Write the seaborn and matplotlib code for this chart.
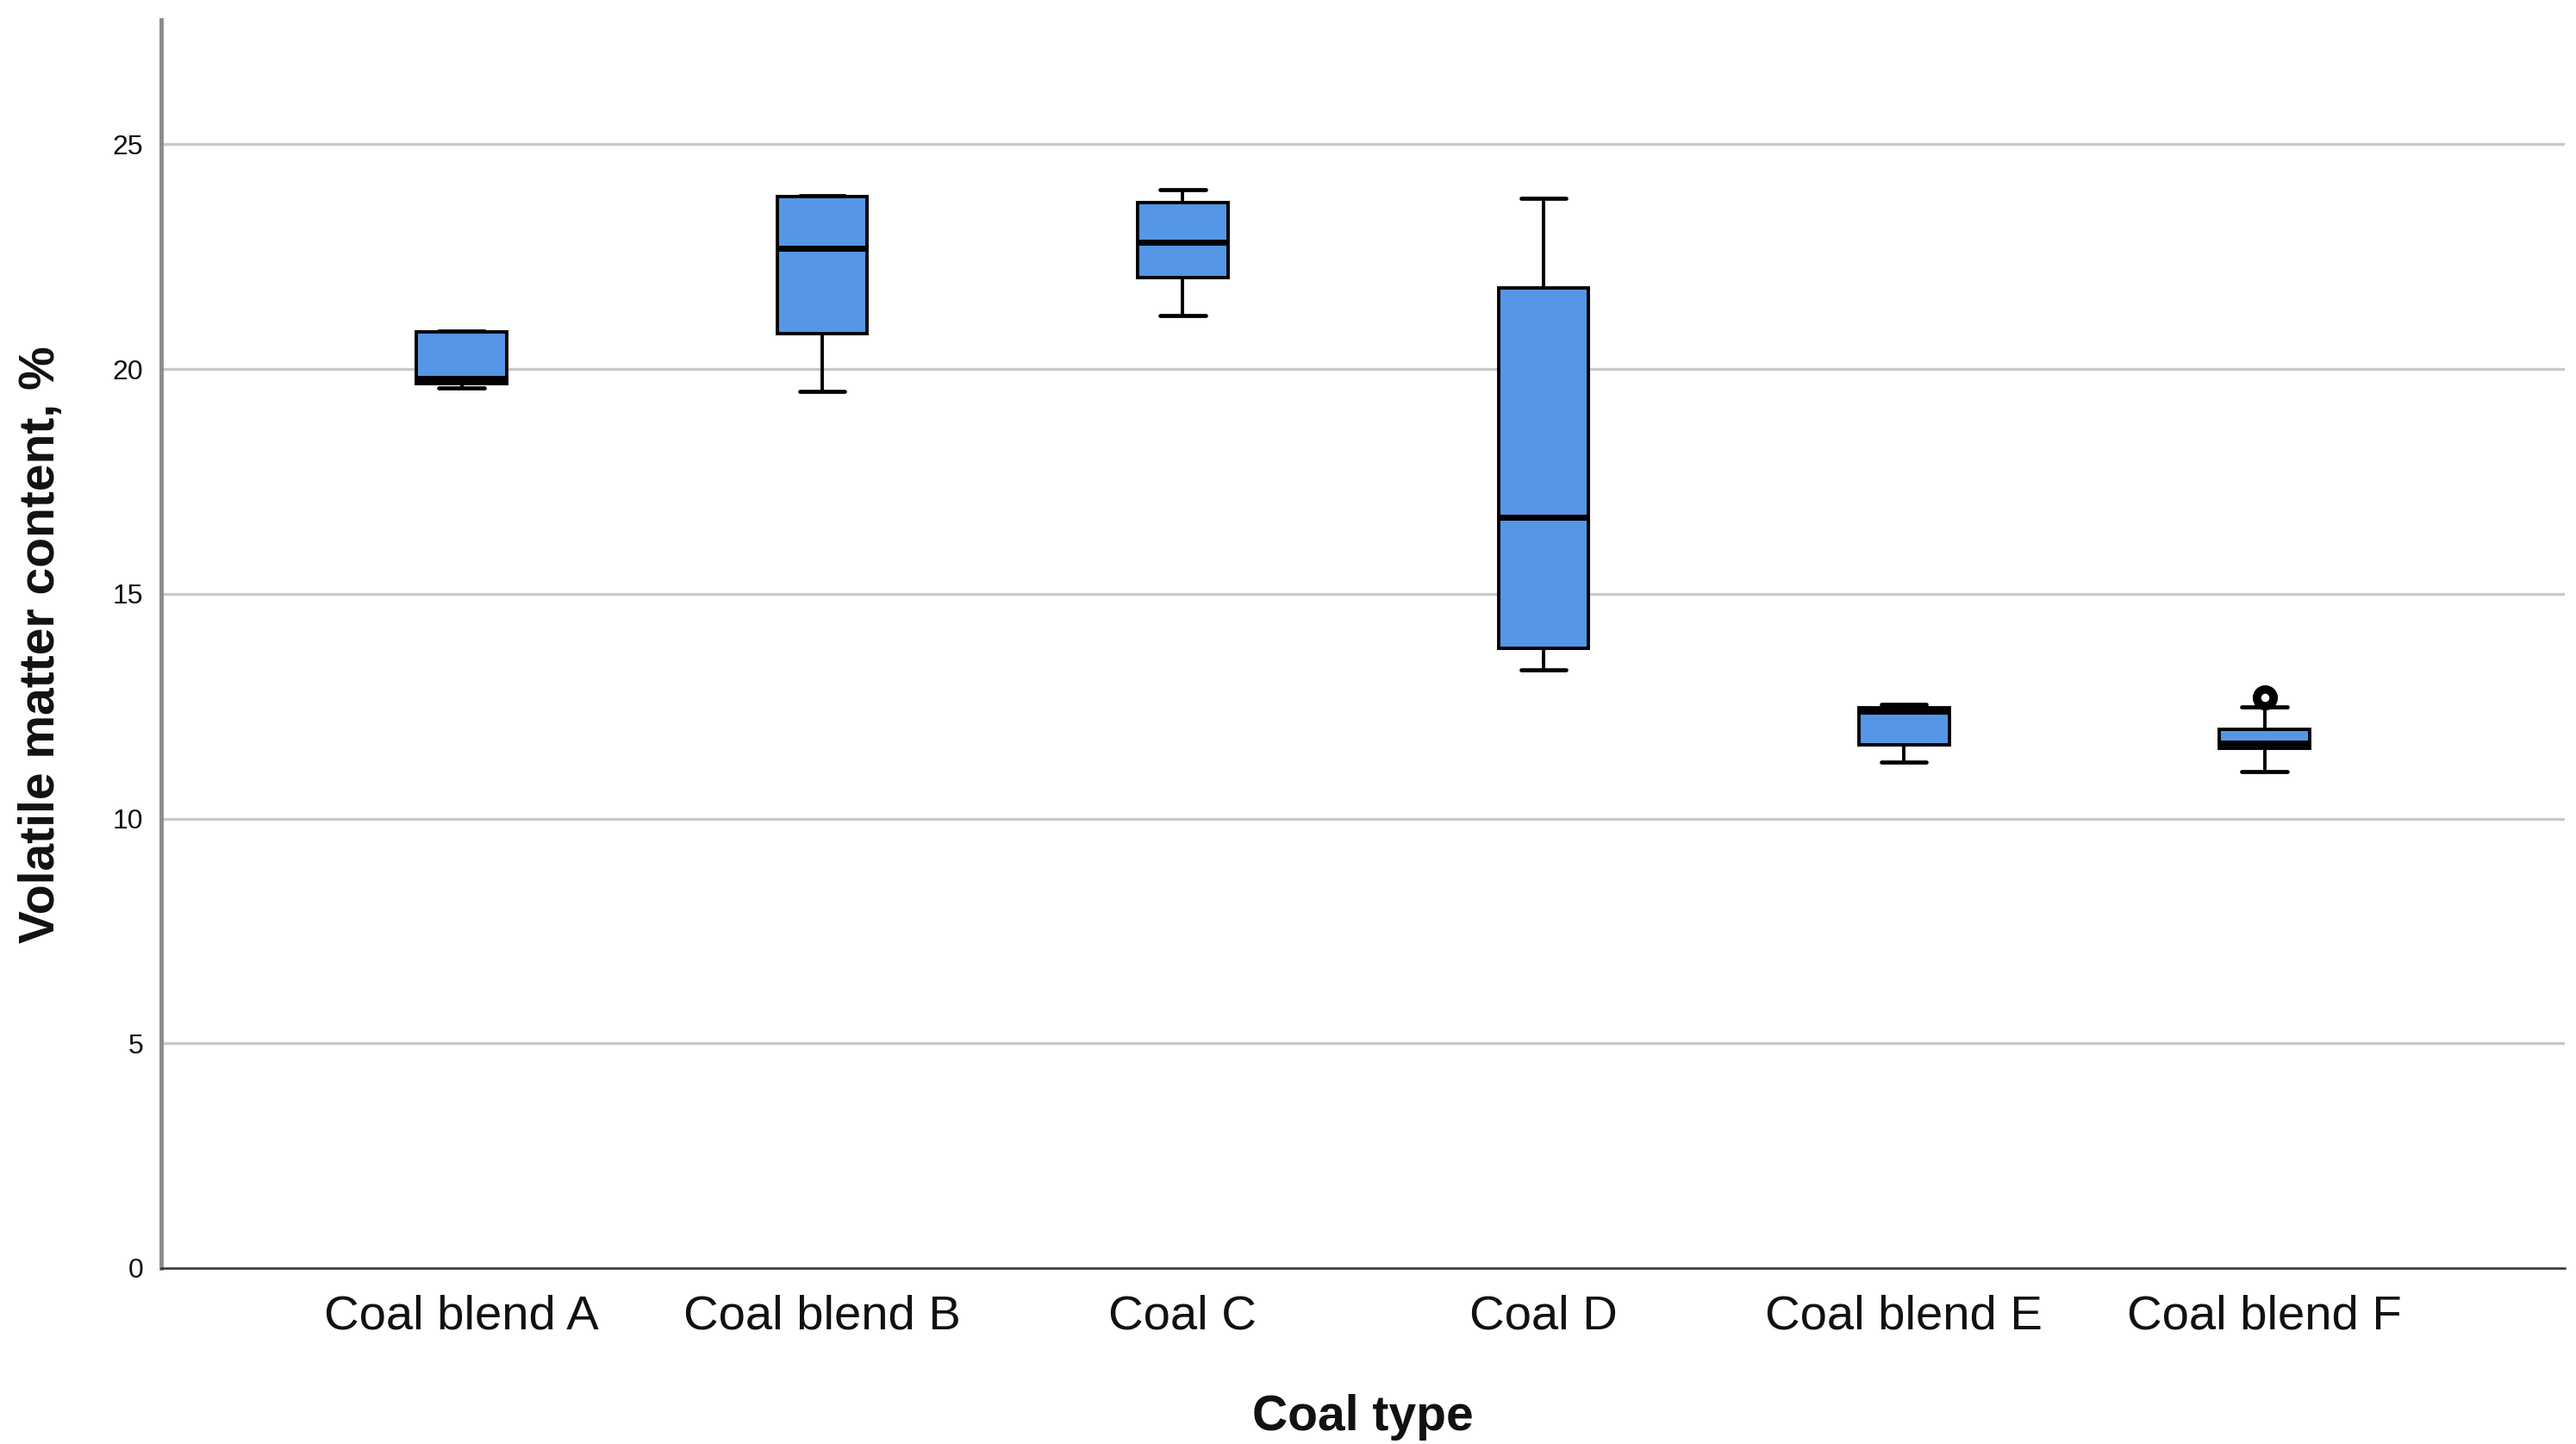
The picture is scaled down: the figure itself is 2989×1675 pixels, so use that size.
import numpy as np
import pandas as pd
import matplotlib
matplotlib.use("Agg")
import matplotlib.pyplot as plt
import seaborn as sns

categories = ["Coal blend A", "Coal blend B", "Coal C", "Coal D", "Coal blend E", "Coal blend F"]
vals_a = [19.58, 19.68, 19.79, 20.82, 20.84]
vals_b = [19.50, 20.79, 22.69, 23.84, 23.85]
vals_c = [21.20, 22.03, 22.82, 23.70, 24.00]
vals_d = [13.31, 13.79, 16.70, 21.81, 23.79]
vals_e = [11.26, 11.64, 12.38, 12.47, 12.55]
vals_f = [11.05, 11.50, 11.57, 11.63, 11.68, 11.85, 11.99, 12.48, 12.70]
y_ticks = [0, 5, 10, 15, 20, 25]

series = [vals_a, vals_b, vals_c, vals_d, vals_e, vals_f]
rows = []
for cat, vals in zip(categories, series):
    for v in vals:
        rows.append({"Coal type": cat, "value": v})
df = pd.DataFrame(rows)

sns.set_theme(style="white")
plt.rcParams["font.family"] = ["Liberation Sans", "DejaVu Sans"]

fig = plt.figure(figsize=(29.89, 16.75), dpi=100)
ax = fig.add_axes([0.0626, 0.1218, 0.9331, 0.8642])

sns.boxplot(
    data=df, x="Coal type", y="value", order=categories, ax=ax,
    color="#5596E6", saturation=1, width=0.25, linecolor="black", linewidth=2.8,
    medianprops={"linewidth": 5, "color": "black"},
    whiskerprops={"linewidth": 2.8, "color": "black"},
    capprops={"linewidth": 3.4, "color": "black"},
    flierprops={"marker": "o", "markersize": 14, "markeredgewidth": 7,
                "markerfacecolor": "white", "markeredgecolor": "black"},
)

ax.set_xlim(-0.833, 5.833)
ax.set_ylim(0, 27.76)
ax.set_yticks(y_ticks)
ax.set_yticklabels([str(t) for t in y_ticks])
ax.yaxis.grid(True, color="#c8c8c8", linewidth=2.4)
ax.xaxis.grid(False)
ax.set_axisbelow(True)

for s in ["top", "right"]:
    ax.spines[s].set_visible(False)
ax.spines["left"].set_color("#8c8c8c")
ax.spines["left"].set_linewidth(3.5)
ax.spines["bottom"].set_color("#333333")
ax.spines["bottom"].set_linewidth(1.8)

ax.tick_params(axis="x", length=0, pad=22, labelsize=40.5, labelcolor="#111111")
ax.tick_params(axis="y", length=0, pad=15, labelsize=23, labelcolor="#111111")

ax.set_xlabel("Coal type", fontsize=41, fontweight="bold", labelpad=46, color="#111111")
ax.set_ylabel("Volatile matter content, %", fontsize=41, fontweight="bold", labelpad=40, color="#111111")

fig.savefig("out.png", dpi=100, facecolor="white")
